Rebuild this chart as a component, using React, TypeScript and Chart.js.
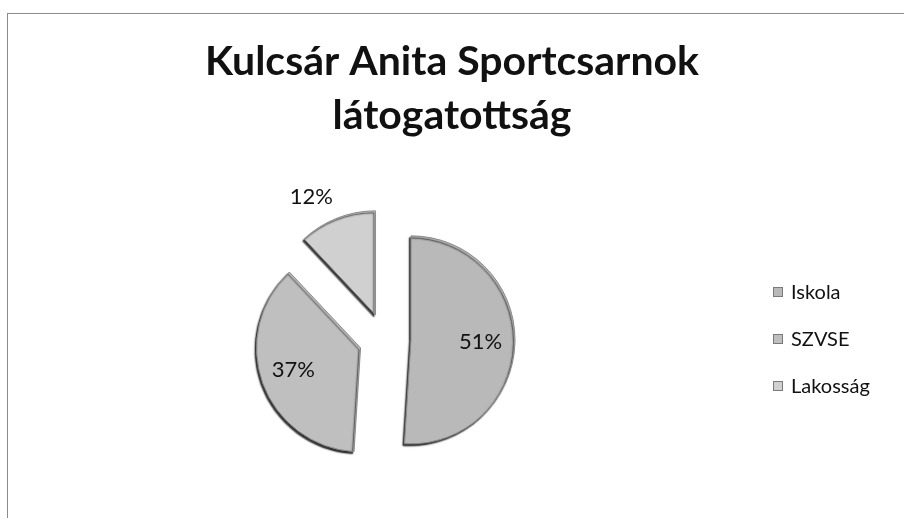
import { useEffect, useRef } from "react";
import { Chart, registerables } from "chart.js";

Chart.register(...registerables);

const TITLE_LINES = ["Kulcsár Anita Sportcsarnok", "látogatottság"];
const CATEGORIES = ["Iskola", "SZVSE", "Lakosság"];
const VALUES = [51, 37, 12];
const PERCENT_LABELS = ["51%", "37%", "12%"];

const COLORS = ["#b9b9b9", "#bfbfbf", "#d0d0d0"];
const LABEL_RADIUS = [0.67, 0.68, 1.29];
const LABEL_ANGLE_SHIFT = [0, 2, -7];
const EXPLODE = 26;

const FONT = "Lato, 'Open Sans', sans-serif";

const explodePlugin = {
  id: "explode",
  afterDatasetsUpdate(chart: any) {
    const meta = chart.getDatasetMeta(0);
    meta.data.forEach((arc: any) => {
      const mid = (arc.startAngle + arc.endAngle) / 2;
      arc.x += Math.cos(mid) * EXPLODE;
      arc.y += Math.sin(mid) * EXPLODE;
    });
  },
};

const decorPlugin = {
  id: "decor",
  beforeDatasetsDraw(chart: any) {
    const ctx = chart.ctx;
    ctx.save();
    ctx.shadowColor = "rgba(0,0,0,0.8)";
    ctx.shadowBlur = 1.5;
    ctx.shadowOffsetX = -1.5;
    ctx.shadowOffsetY = 2;
  },
  afterDatasetsDraw(chart: any) {
    const ctx = chart.ctx;
    ctx.restore();
    const meta = chart.getDatasetMeta(0);
    ctx.save();
    ctx.font = `22px ${FONT}`;
    ctx.fillStyle = "#111";
    ctx.textAlign = "center";
    ctx.textBaseline = "middle";
    meta.data.forEach((arc: any, i: number) => {
      const p = arc.getProps(["x", "y", "startAngle", "endAngle", "outerRadius"], true);
      const mid = (p.startAngle + p.endAngle) / 2 + (LABEL_ANGLE_SHIFT[i] * Math.PI) / 180;
      const d = LABEL_RADIUS[i] * p.outerRadius;
      ctx.fillText(PERCENT_LABELS[i], p.x + Math.cos(mid) * d, p.y + Math.sin(mid) * d);
    });
    ctx.restore();
  },
  afterDraw(chart: any) {
    const ctx = chart.ctx;
    ctx.save();
    ctx.fillStyle = "#111";
    ctx.textAlign = "center";
    ctx.textBaseline = "alphabetic";
    ctx.font = `bold 41px ${FONT}`;
    ctx.fillText(TITLE_LINES[0], 452, 75);
    ctx.fillText(TITLE_LINES[1], 452, 129);

    ctx.font = `20px ${FONT}`;
    ctx.textAlign = "left";
    ctx.textBaseline = "middle";
    CATEGORIES.forEach((c, i) => {
      const yc = 292 + i * 47;
      ctx.fillStyle = COLORS[i];
      ctx.fillRect(773, yc - 5, 10, 10);
      ctx.strokeStyle = "#7a7a7a";
      ctx.lineWidth = 1;
      ctx.strokeRect(773.5, yc - 4.5, 9, 9);
      ctx.fillStyle = "#111";
      ctx.fillText(c, 791, yc + 1);
    });
    ctx.restore();
  },
};

export default function App() {
  const ref = useRef<HTMLCanvasElement | null>(null);
  useEffect(() => {
    if (!ref.current) return;
    const chart = new Chart(ref.current, {
      type: "pie",
      data: {
        labels: CATEGORIES,
        datasets: [
          {
            data: VALUES,
            backgroundColor: COLORS,
            borderColor: "#8a8a8a",
            borderWidth: 1,
            offset: 0,
            hoverOffset: 0,
          },
        ],
      },
      options: {
        responsive: false,
        animation: false,
        radius: 104,
        layout: { padding: { left: 255, right: 389, top: 209, bottom: 49 } },
        plugins: {
          legend: { display: false },
          title: { display: false },
          tooltip: { enabled: false },
        },
      } as any,
      plugins: [explodePlugin, decorPlugin],
    });
    return () => chart.destroy();
  }, []);
  return (
    <div style={{ position: "absolute", left: 0, top: 0, width: 904, height: 518, overflow: "hidden", background: "#fff" }}>
      <div
        style={{
          position: "absolute",
          left: 7,
          top: 13,
          width: 910,
          height: 520,
          borderTop: "1px solid #8c8c8c",
          borderLeft: "1px solid #8c8c8c",
        }}
      />
      <canvas ref={ref} width={904} height={518} style={{ position: "absolute", left: 0, top: 0, display: "block" }} />
    </div>
  );
}
